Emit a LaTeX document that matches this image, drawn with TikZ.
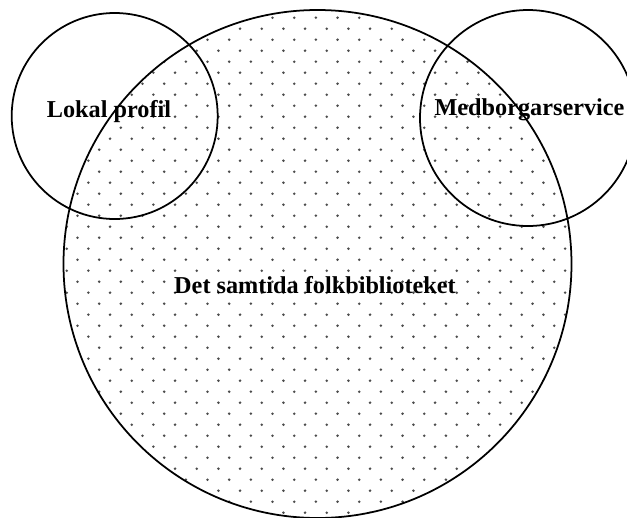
\documentclass[tikz,border=0pt]{standalone}
\usepackage{fontspec}
\setmainfont{Liberation Serif}
\usepackage{tikz}
\usetikzlibrary{positioning}

\begin{document}
\begin{tikzpicture}[
        x=0.02cm, y=-0.02cm,
        ring/.style={draw=black, line width=1pt},
        pip/.style={fill=black!70},
        label/.style={anchor=base, font=\bfseries\fontsize{13.8}{16}\selectfont, inner sep=0pt}
    ]
        \useasboundingbox (0,0) rectangle (627,518);

        % CENTRES
        \coordinate (bib) at (317.5,264);
        \coordinate (lokal) at (114.7,116);
        \coordinate (medb) at (528,118);

        % DOT FILL OF THE LIBRARY CIRCLE
        \begin{scope}
            \clip (bib) circle[radius=254];
            \foreach \j in {0,...,46} {
                \pgfmathsetmacro{\xo}{mod(\j,2)==0 ? 1.7 : 12.5}
                \foreach \i in {0,...,28} {
                    \fill[pip] (\xo+21.67*\i, 6.7+11*\j) circle[radius=0.8pt];
                }
            }
        \end{scope}

        % CIRCLES
        \begin{scope}
            \clip (0,0) rectangle (627,518);
            \draw[ring] (bib) circle[radius=254];
            \draw[ring] (lokal) circle[radius=103];
            \draw[ring] (medb) circle[radius=108];
        \end{scope}

        % LABELS
        \node[label] (lokaltext) at (109,117) {Lokal profil};
        \node[label] (medbtext) at (529.5,115) {Medborgarservice};
        \node[label] (bibtext) at (315,293) {Det samtida folkbiblioteket};
    \end{tikzpicture}
\end{document}
